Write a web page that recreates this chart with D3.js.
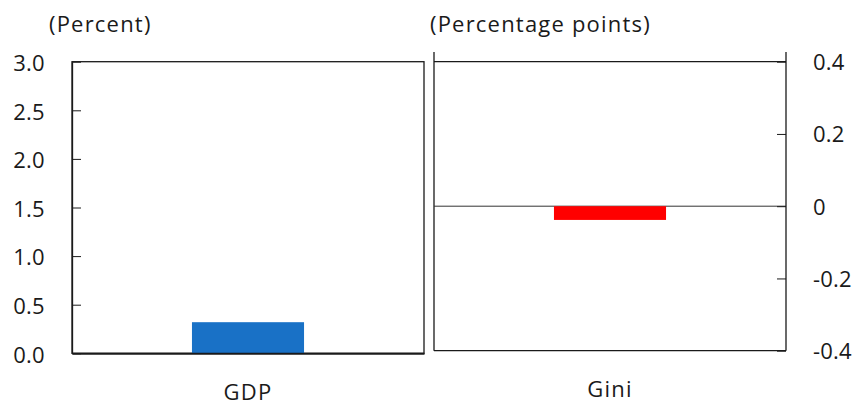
<!DOCTYPE html>
<html>
<head>
<meta charset="utf-8">
<script src="https://cdn.jsdelivr.net/npm/d3@7"></script>
<style>
  html, body { margin: 0; padding: 0; background: #fff; }
  svg text { font-family: "Open Sans", "Noto Sans", sans-serif; fill: #1a1a1a; letter-spacing: 1.2px; }
</style>
</head>
<body>
<svg id="chart" width="862" height="407"></svg>
<script>
// ---- data ----
const leftCategories = ["GDP"];
const leftValues = [0.32];
const leftTicks = [0, 0.5, 1.0, 1.5, 2.0, 2.5, 3.0];
const leftTickLabels = ["0.0", "0.5", "1.0", "1.5", "2.0", "2.5", "3.0"];
const leftUnit = "(Percent)";

const rightCategories = ["Gini"];
const rightValues = [-0.038];
const rightTicks = [-0.4, -0.2, 0, 0.2, 0.4];
const rightTickLabels = ["-0.4", "-0.2", "0", "0.2", "0.4"];
const rightUnit = "(Percentage points)";

const svg = d3.select("#chart");
const FS = 22;
const FF = "'Open Sans', 'Noto Sans', sans-serif";
const stroke = "#1a1a1a";

function styleText(sel, ls) {
  sel.attr("font-size", FS).style("font-family", FF).attr("fill", "#1a1a1a")
    .style("letter-spacing", (ls === undefined ? 1.2 : ls) + "px");
}

// ---- left panel ----
const L = { x0: 72, x1: 424, y0: 61.7, y1: 353.3 };
const xL = d3.scaleBand().domain(leftCategories).range([L.x0, L.x1]).padding(0.517);
const yL = d3.scaleLinear().domain([0, 3]).range([L.y1, L.y0]);

const gL = svg.append("g");
gL.append("rect").attr("x", L.x0).attr("y", L.y0).attr("width", L.x1 - L.x0).attr("height", L.y1 - L.y0)
  .attr("fill", "none").attr("stroke", stroke).attr("stroke-width", 1.3);
gL.selectAll("rect.bar").data(leftValues).join("rect").attr("class", "bar")
  .attr("x", (d, i) => xL(leftCategories[i])).attr("width", xL.bandwidth())
  .attr("y", d => yL(Math.max(0, d))).attr("height", d => Math.abs(yL(d) - yL(0)))
  .attr("fill", "#1971C6");
const axL = gL.append("g").attr("transform", `translate(${L.x0},0)`)
  .call(d3.axisLeft(yL).tickValues(leftTicks).tickFormat((d, i) => leftTickLabels[i])
    .tickSizeInner(-9).tickSizeOuter(0).tickPadding(27));
axL.select(".domain").attr("stroke", stroke).attr("stroke-width", 1.3);
axL.selectAll(".tick line").attr("stroke", stroke);
axL.selectAll(".tick text").call(styleText, 0.3).attr("dy", "0.4em");
const axLx = gL.append("g").attr("transform", `translate(0,${L.y1})`)
  .call(d3.axisBottom(xL).tickSize(0).tickPadding(31));
axLx.select(".domain").attr("stroke", stroke).attr("stroke-width", 2);
axLx.selectAll(".tick text").call(styleText);
svg.append("text").attr("x", 49).attr("y", 32).call(styleText).text(leftUnit);

// ---- right panel ----
const R = { x0: 434, x1: 786, y0: 61.7, y1: 350.7, ext: 52 };
const xR = d3.scaleBand().domain(rightCategories).range([R.x0, R.x1]).padding(0.517);
const yR = d3.scaleLinear().domain([-0.4, 0.4]).range([R.y1, R.y0]);
const gR = svg.append("g");
gR.append("line").attr("x1", R.x0).attr("x2", R.x1).attr("y1", R.y0).attr("y2", R.y0)
  .attr("stroke", stroke).attr("stroke-width", 1.3);
gR.append("line").attr("x1", R.x0).attr("x2", R.x1).attr("y1", R.y1).attr("y2", R.y1)
  .attr("stroke", stroke).attr("stroke-width", 1.3);
gR.append("line").attr("x1", R.x0).attr("x2", R.x0).attr("y1", R.ext).attr("y2", R.y1)
  .attr("stroke", stroke).attr("stroke-width", 1.3);
gR.append("line").attr("x1", R.x0).attr("x2", R.x1).attr("y1", yR(0)).attr("y2", yR(0))
  .attr("stroke", "#333").attr("stroke-width", 1);
gR.selectAll("rect.bar").data(rightValues).join("rect").attr("class", "bar")
  .attr("x", (d, i) => xR(rightCategories[i])).attr("width", xR.bandwidth())
  .attr("y", d => yR(Math.max(0, d))).attr("height", d => Math.abs(yR(d) - yR(0)))
  .attr("fill", "#FF0000");
const axR = gR.append("g").attr("transform", `translate(${R.x1},0)`)
  .call(d3.axisRight(yR).tickValues(rightTicks).tickFormat((d, i) => rightTickLabels[i])
    .tickSizeInner(-9).tickSizeOuter(0).tickPadding(27));
axR.select(".domain").remove();
axR.append("line").attr("x1", 0).attr("x2", 0).attr("y1", R.ext).attr("y2", R.y1)
  .attr("stroke", stroke).attr("stroke-width", 1.3);
axR.selectAll(".tick line").attr("stroke", stroke);
axR.selectAll(".tick text").call(styleText, 0.2).attr("dy", "0.36em");
const axRx = gR.append("g").attr("transform", `translate(0,${R.y1})`)
  .call(d3.axisBottom(xR).tickSize(0).tickPadding(31));
axRx.select(".domain").remove();
axRx.selectAll(".tick text").call(styleText);
svg.append("text").attr("x", 430).attr("y", 32).call(styleText).text(rightUnit);
</script>
</body>
</html>
